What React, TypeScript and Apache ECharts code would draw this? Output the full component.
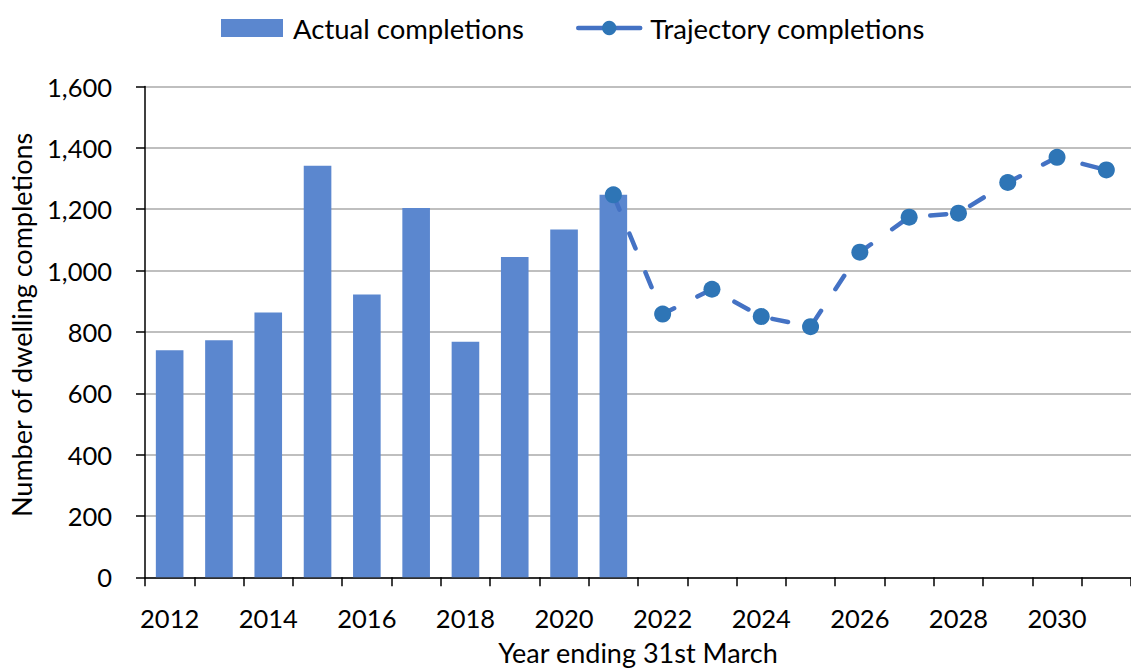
import React, { useEffect, useRef } from "react";
import * as echarts from "echarts";

const categories = [
  "2012", "2013", "2014", "2015", "2016", "2017", "2018", "2019", "2020", "2021",
  "2022", "2023", "2024", "2025", "2026", "2027", "2028", "2029", "2030", "2031",
];

const actualCompletions: (number | null)[] = [
  740, 773, 863, 1342, 922, 1204, 768, 1044, 1134, 1247,
  null, null, null, null, null, null, null, null, null, null,
];

const trajectoryCompletions: (number | null)[] = [
  null, null, null, null, null, null, null, null, null, 1247,
  858, 939, 850, 817, 1060, 1174, 1187, 1287, 1369, 1328,
];

const yTicks = { min: 0, max: 1600, interval: 200 };

const FONT = "Lato";

export default function App() {
  const ref = useRef<HTMLDivElement>(null);

  useEffect(() => {
    document.body.style.margin = "0";
    if (!ref.current) return;
    const chart = echarts.init(ref.current, null, { renderer: "svg" });
    chart.setOption({
      animation: false,
      textStyle: { fontFamily: FONT, color: "#000" },
      legend: {
        top: 14,
        left: 221,
        padding: 0,
        itemWidth: 62,
        itemHeight: 18,
        itemGap: 52,
        textStyle: { fontSize: 27.5, fontFamily: FONT, color: "#000", padding: [0, 0, 0, 5] },
        lineStyle: { type: "solid", width: 4.5, color: "#4472C4" },
        data: [
          { name: "Actual completions", icon: "rect" },
          { name: "Trajectory completions" },
        ],
      },
      grid: {
        left: 145,
        right: 0,
        top: 86.5,
        bottom: 93.7,
        containLabel: false,
        outerBoundsMode: "none",
      },
      xAxis: {
        type: "category",
        data: categories,
        boundaryGap: true,
        name: "Year ending 31st March",
        nameLocation: "middle",
        nameGap: 62,
        nameTextStyle: { fontSize: 27, fontFamily: FONT, color: "#000" },
        axisLine: { show: true, lineStyle: { color: "#000", width: 1.5 } },
        axisTick: { show: true, interval: 0, alignWithLabel: false, length: 9, lineStyle: { color: "#000", width: 1.5 } },
        axisLabel: { interval: 1, fontSize: 25.5, fontFamily: FONT, color: "#000", margin: 28 },
        splitLine: { show: false },
      },
      yAxis: {
        type: "value",
        min: yTicks.min,
        max: yTicks.max,
        interval: yTicks.interval,
        name: "Number of dwelling completions",
        nameLocation: "middle",
        nameGap: 110,
        nameRotate: 90,
        nameTextStyle: { fontSize: 27, fontFamily: FONT, color: "#000", padding: [0, 0, 0, 14] },
        axisLine: { show: true, lineStyle: { color: "#000", width: 1.5 } },
        axisTick: { show: true, length: 9, lineStyle: { color: "#000", width: 1.5 } },
        axisLabel: {
          fontSize: 25.5,
          fontFamily: FONT,
          color: "#000",
          margin: 33,
          formatter: (v: number) => v.toLocaleString("en-US"),
        },
        splitLine: { show: true, lineStyle: { color: "#BFBFBF", width: 2 } },
      },
      series: [
        {
          name: "Actual completions",
          type: "bar",
          data: actualCompletions,
          barWidth: "56%",
          itemStyle: { color: "#5B87CF" },
        },
        {
          name: "Trajectory completions",
          type: "line",
          data: trajectoryCompletions,
          symbol: "circle",
          symbolSize: 17,
          showSymbol: true,
          connectNulls: false,
          itemStyle: { color: "#2E75B6" },
          lineStyle: { color: "#4472C4", width: 4.5, type: [16, 26], cap: "round" },
          z: 3,
        },
      ],
    });
    return () => chart.dispose();
  }, []);

  return (
    <div
      ref={ref}
      style={{ position: "absolute", left: 0, top: 0, width: 1131, height: 671 }}
    />
  );
}
